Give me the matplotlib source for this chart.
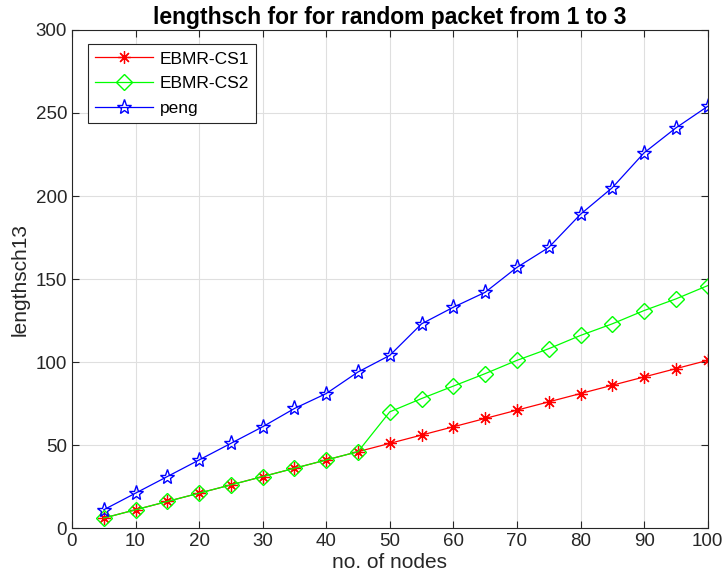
import matplotlib.pyplot as plt

plt.rcParams['font.family'] = ['Liberation Sans', 'DejaVu Sans']

nodes = [5, 10, 15, 20, 25, 30, 35, 40, 45, 50, 55, 60, 65, 70, 75, 80, 85, 90, 95, 100]
ebmr_cs1 = [6, 11, 16, 21, 26, 31, 36, 41, 46, 51, 56, 61, 66, 71, 76, 81, 86, 91, 96, 101]
ebmr_cs2 = [6, 11, 16, 21, 26, 31, 36, 41, 46, 70, 78, 85.5, 93, 101, 108, 116, 123, 131, 138, 146]
peng = [11, 21, 31, 41, 51, 61, 72, 81, 94, 104, 123, 133, 142, 157, 169, 189, 205, 226, 241, 254]

fig = plt.figure(figsize=(7.24, 5.88), dpi=100)
ax = fig.add_axes([0.0994, 0.102, 0.878, 0.847])

ax.plot(nodes, ebmr_cs1, color='#ff0000', marker=(8, 2, 0), markersize=9, mew=0.9, lw=0.9, label='EBMR-CS1')
ax.plot(nodes, ebmr_cs2, color='#00ff00', marker='D', markersize=8, markerfacecolor='none', lw=0.9, label='EBMR-CS2')
ax.plot(nodes, peng, color='#0000ff', marker='*', markersize=11, markerfacecolor='none', lw=0.9, label='peng')

ax.set_xlim(0, 100)
ax.set_ylim(0, 300)
ax.set_xticks(range(0, 101, 10))
ax.set_yticks(range(0, 301, 50))
ax.grid(True, color='#dfdfdf', lw=0.8)
ax.set_axisbelow(True)
ax.tick_params(direction='in', top=True, right=True, labelsize=13.5, colors='#262626', length=5)
for s in ax.spines.values():
    s.set_color('#262626')
    s.set_linewidth(0.8)

ax.set_title('lengthsch for for random packet from 1 to 3', fontsize=16.5, fontweight='bold', pad=4)
ax.set_xlabel('no. of nodes', fontsize=15, color='#262626', labelpad=2)
ax.set_ylabel('lengthsch13', fontsize=15, color='#262626')

leg = ax.legend(loc='upper left', bbox_to_anchor=(0.026, 0.971), fontsize=12.5, fancybox=False,
                edgecolor='#262626', framealpha=1, borderpad=0.4, labelspacing=0.55,
                handlelength=3.3, handletextpad=0.4, borderaxespad=0)
leg.get_frame().set_linewidth(0.8)

fig.savefig('out.png', dpi=100)
